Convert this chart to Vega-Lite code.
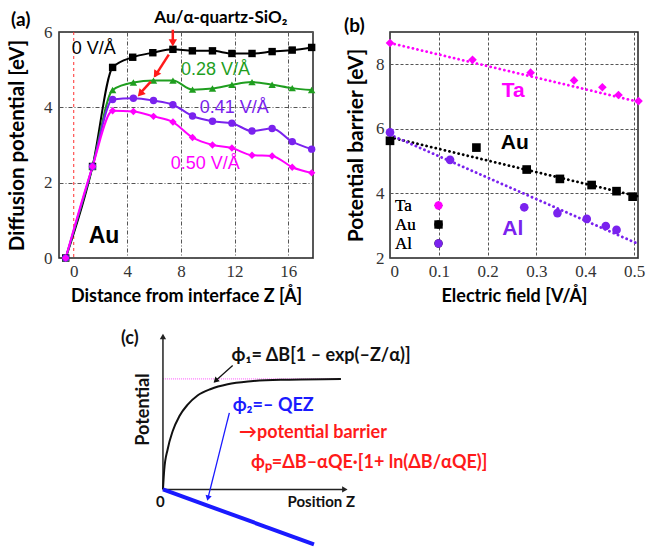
{
"$schema":"https://vega.github.io/schema/vega-lite/v6.json",
"background":"white",
"padding":{"left":6,"top":8,"right":0,"bottom":0},
"spacing":11,
"resolve":{"scale":{"color":"independent","shape":"independent"}},
"datasets":{
"diffusion":[
{"series":"0 V/Å","z":-0.6,"e":0},{"series":"0 V/Å","z":1.4,"e":2.43},{"series":"0 V/Å","z":2.9,"e":5.06},{"series":"0 V/Å","z":4.4,"e":5.33},{"series":"0 V/Å","z":5.9,"e":5.45},{"series":"0 V/Å","z":7.4,"e":5.54},{"series":"0 V/Å","z":8.85,"e":5.5},{"series":"0 V/Å","z":10.35,"e":5.5},{"series":"0 V/Å","z":11.8,"e":5.43},{"series":"0 V/Å","z":13.3,"e":5.43},{"series":"0 V/Å","z":14.8,"e":5.48},{"series":"0 V/Å","z":16.3,"e":5.52},{"series":"0 V/Å","z":17.75,"e":5.59},
{"series":"0.28 V/Å","z":-0.6,"e":0},{"series":"0.28 V/Å","z":1.4,"e":2.43},{"series":"0.28 V/Å","z":2.9,"e":4.46},{"series":"0.28 V/Å","z":4.45,"e":4.66},{"series":"0.28 V/Å","z":5.95,"e":4.71},{"series":"0.28 V/Å","z":7.4,"e":4.71},{"series":"0.28 V/Å","z":8.86,"e":4.47},{"series":"0.28 V/Å","z":10.35,"e":4.5},{"series":"0.28 V/Å","z":11.8,"e":4.6},{"series":"0.28 V/Å","z":13.3,"e":4.67},{"series":"0.28 V/Å","z":14.8,"e":4.6},{"series":"0.28 V/Å","z":16.3,"e":4.51},{"series":"0.28 V/Å","z":17.75,"e":4.46},
{"series":"0.41 V/Å","z":-0.6,"e":0},{"series":"0.41 V/Å","z":1.4,"e":2.43},{"series":"0.41 V/Å","z":2.9,"e":4.21},{"series":"0.41 V/Å","z":4.45,"e":4.24},{"series":"0.41 V/Å","z":5.95,"e":4.18},{"series":"0.41 V/Å","z":7.4,"e":4.07},{"series":"0.41 V/Å","z":8.86,"e":3.77},{"series":"0.41 V/Å","z":10.35,"e":3.63},{"series":"0.41 V/Å","z":11.8,"e":3.58},{"series":"0.41 V/Å","z":13.3,"e":3.37},{"series":"0.41 V/Å","z":14.8,"e":3.44},{"series":"0.41 V/Å","z":16.3,"e":3.09},{"series":"0.41 V/Å","z":17.75,"e":2.89},
{"series":"0.50 V/Å","z":-0.6,"e":0},{"series":"0.50 V/Å","z":1.4,"e":2.43},{"series":"0.50 V/Å","z":2.9,"e":3.91},{"series":"0.50 V/Å","z":4.45,"e":3.89},{"series":"0.50 V/Å","z":5.95,"e":3.76},{"series":"0.50 V/Å","z":7.4,"e":3.61},{"series":"0.50 V/Å","z":8.86,"e":3.2},{"series":"0.50 V/Å","z":10.35,"e":3.0},{"series":"0.50 V/Å","z":11.8,"e":2.92},{"series":"0.50 V/Å","z":13.3,"e":2.73},{"series":"0.50 V/Å","z":14.8,"e":2.71},{"series":"0.50 V/Å","z":16.3,"e":2.41},{"series":"0.50 V/Å","z":17.75,"e":2.26}
],
"a_labels":[{"series":"0 V/Å","z":-0.15,"e":5.56},{"series":"0.28 V/Å","z":8.0,"e":5.0},{"series":"0.41 V/Å","z":9.4,"e":3.97},{"series":"0.50 V/Å","z":7.24,"e":2.49}],
"a_ref":[{"z":0}],
"a_notes":[{"kind":"metal","note":"Au","z":1.12,"e":0.58},{"kind":"header","note":"Au/α-quartz-SiO₂","z":10.97,"e":6.36},{"kind":"panel","note":"(a)","z":-4.68,"e":6.32}],
"a_arrows":[{"z":7.39,"e":6.06,"z2":7.39,"e2":5.75},{"z":7.09,"e":5.4,"z2":6.05,"e2":4.82},{"z":5.75,"e":4.68,"z2":5.0,"e2":4.39}],
"a_heads":[{"z":7.39,"e":5.71,"heading":180},{"z":6.12,"e":4.87,"heading":213},{"z":4.96,"e":4.36,"heading":222}],
"barrier":[
{"metal":"Ta","efield":0,"barrier":8.66},{"metal":"Ta","efield":0.169,"barrier":8.14},{"metal":"Ta","efield":0.288,"barrier":7.74},{"metal":"Ta","efield":0.377,"barrier":7.5},{"metal":"Ta","efield":0.435,"barrier":7.29},{"metal":"Ta","efield":0.468,"barrier":7.05},{"metal":"Ta","efield":0.509,"barrier":6.86},
{"metal":"Au","efield":0,"barrier":5.63},{"metal":"Au","efield":0.177,"barrier":5.42},{"metal":"Au","efield":0.28,"barrier":4.74},{"metal":"Au","efield":0.348,"barrier":4.45},{"metal":"Au","efield":0.413,"barrier":4.26},{"metal":"Au","efield":0.464,"barrier":4.07},{"metal":"Au","efield":0.497,"barrier":3.9},
{"metal":"Al","efield":0,"barrier":5.89},{"metal":"Al","efield":0.123,"barrier":5.04},{"metal":"Al","efield":0.275,"barrier":3.57},{"metal":"Al","efield":0.343,"barrier":3.39},{"metal":"Al","efield":0.403,"barrier":3.21},{"metal":"Al","efield":0.442,"barrier":2.99},{"metal":"Al","efield":0.464,"barrier":2.87}
],
"fits":[{"metal":"Ta","efield":0,"barrier":8.66},{"metal":"Ta","efield":0.508,"barrier":6.84},{"metal":"Au","efield":0,"barrier":5.74},{"metal":"Au","efield":0.508,"barrier":3.91},{"metal":"Al","efield":0,"barrier":5.82},{"metal":"Al","efield":0.508,"barrier":2.44}],
"b_labels":[{"metal":"Ta","efield":0.229,"barrier":7.18},{"metal":"Au","efield":0.227,"barrier":5.57},{"metal":"Al","efield":0.23,"barrier":2.9}],
"b_panel":[{"note":"(b)","efield":-0.094,"barrier":9.19}],
"c_curve":[{"z":0,"phi":0},{"z":0.07,"phi":1.27},{"z":0.25,"phi":2.55},{"z":0.52,"phi":3.71},{"z":0.88,"phi":4.67},{"z":1.33,"phi":5.41},{"z":1.86,"phi":5.99},{"z":2.58,"phi":6.41},{"z":3.48,"phi":6.71},{"z":4.73,"phi":6.9},{"z":6.52,"phi":7.0},{"z":9.57,"phi":7.05}],
"c_segments":[
{"role":"guide","z":0,"phi":7.05,"z2":9.57,"phi2":7.05},
{"role":"axis","z":0,"phi":0,"z2":0,"phi2":9.7},
{"role":"axis","z":0,"phi":0,"z2":9.75,"phi2":0},
{"role":"field","z":0,"phi":0,"z2":8.12,"phi2":-3.5},
{"role":"pointer1","z":3.75,"phi":7.9,"z2":2.83,"phi2":6.93},
{"role":"pointer2","z":3.57,"phi":4.88,"z2":2.42,"phi2":-0.56}],
"c_heads":[{"role":"axis","z":0,"phi":9.75,"heading":0},{"role":"axis","z":9.78,"phi":0,"heading":90},{"role":"pointer1","z":2.83,"phi":6.93,"heading":226.5},{"role":"pointer2","z":2.42,"phi":-0.56,"heading":194}],
"c_text":[
{"role":"label","text":"(c)","z":-2.26,"phi":9.62},
{"role":"label","text":"ϕ₁= ΔB[1 – exp(–Z/α)]","z":3.69,"phi":8.49},
{"role":"pointer2","text":"ϕ₂=– QEZ","z":3.75,"phi":5.31},
{"role":"barrier","text":"→potential barrier","z":4.09,"phi":3.63},
{"role":"barrier","text":"ϕₚ=ΔB–αQE·[1+ ln(ΔB/αQE)]","z":4.73,"phi":1.66}],
"c_small":[{"text":"Position Z","z":6.7,"phi":-0.81},{"text":"0","z":-0.38,"phi":-0.83}],
"c_vtext":[{"text":"Potential","z":-1.0,"phi":5.1}]
},
"vconcat":[
{"hconcat":[
{"width":254,"height":226,
"layer":[
{"data":{"name":"a_ref"},"mark":{"type":"rule","color":"#ff3030","strokeDash":[3,3],"strokeWidth":1},
"encoding":{"x":{"field":"z","type":"quantitative","scale":{"domain":[-1.1,17.85],"nice":false,"zero":false},
"axis":{"values":[0,4,8,12,16],"labelFont":"Liberation Serif","title":"Distance from interface Z [Å]","titleFontSize":18,"titlePadding":8,"gridOpacity":{"condition":{"test":"datum.value === 0","value":0},"value":1}}}}},
{"data":{"name":"diffusion"},"mark":{"type":"line","interpolate":"monotone","strokeWidth":2},
"encoding":{"x":{"field":"z","type":"quantitative"},
"y":{"field":"e","type":"quantitative","scale":{"domain":[0,6],"nice":false},"axis":{"values":[0,2,4,6],"labelFont":"Liberation Serif","title":"Diffusion potential [eV]","titleFontSize":20.5,"titlePadding":16,"labelPadding":7}},
"color":{"field":"series","type":"nominal","scale":{"domain":["0 V/Å","0.28 V/Å","0.41 V/Å","0.50 V/Å"],"range":["#000000","#1f9e1f","#7a22ee","#ff00ff"]},"legend":null}}},
{"data":{"name":"diffusion"},"mark":{"type":"point","filled":true,"opacity":1,"size":55},
"encoding":{"x":{"field":"z","type":"quantitative"},"y":{"field":"e","type":"quantitative"},
"color":{"field":"series","type":"nominal","legend":null},
"shape":{"field":"series","type":"nominal","scale":{"domain":["0 V/Å","0.28 V/Å","0.41 V/Å","0.50 V/Å"],"range":["square","triangle-up","circle","diamond"]},"legend":null}}},
{"data":{"name":"a_labels"},"mark":{"type":"text","align":"left","baseline":"middle","font":"Liberation Sans","fontSize":18},
"encoding":{"x":{"field":"z","type":"quantitative"},"y":{"field":"e","type":"quantitative"},"text":{"field":"series"},"color":{"field":"series","type":"nominal","legend":null}}},
{"data":{"name":"a_notes"},"transform":[{"filter":"datum.kind === 'metal'"}],"mark":{"type":"text","align":"left","baseline":"middle","font":"Liberation Sans","fontWeight":"bold","fontSize":23,"color":"black"},
"encoding":{"x":{"field":"z","type":"quantitative"},"y":{"field":"e","type":"quantitative"},"text":{"field":"note"}}},
{"data":{"name":"a_notes"},"transform":[{"filter":"datum.kind === 'header'"}],"mark":{"type":"text","align":"center","baseline":"middle","font":"Lato","fontWeight":"bold","fontSize":17,"color":"black"},
"encoding":{"x":{"field":"z","type":"quantitative"},"y":{"field":"e","type":"quantitative"},"text":{"field":"note"}}},
{"data":{"name":"a_notes"},"transform":[{"filter":"datum.kind === 'panel'"}],"mark":{"type":"text","align":"left","baseline":"middle","font":"Lato","fontWeight":"bold","fontSize":19,"color":"black"},
"encoding":{"x":{"field":"z","type":"quantitative"},"y":{"field":"e","type":"quantitative"},"text":{"field":"note"}}},
{"data":{"name":"a_arrows"},"mark":{"type":"rule","color":"#ff1a1a","strokeWidth":2.5},
"encoding":{"x":{"field":"z","type":"quantitative"},"y":{"field":"e","type":"quantitative"},"x2":{"field":"z2"},"y2":{"field":"e2"}}},
{"data":{"name":"a_heads"},"mark":{"type":"point","shape":"triangle-up","filled":true,"opacity":1,"color":"#ff1a1a","size":70},
"encoding":{"x":{"field":"z","type":"quantitative"},"y":{"field":"e","type":"quantitative"},"angle":{"field":"heading","type":"quantitative","scale":null}}}
]},
{"width":248,"height":226,
"resolve":{"scale":{"color":"independent"}},
"layer":[
{"data":{"name":"fits"},"mark":{"type":"line","strokeDash":[0.1,4.6],"strokeCap":"round","strokeWidth":2.8},
"encoding":{"x":{"field":"efield","type":"quantitative","scale":{"domain":[0,0.508],"nice":false},"axis":{"values":[0,0.1,0.2,0.3,0.4,0.5],"labelFont":"Liberation Serif","format":"~g","title":"Electric field [V/Å]","titleFontSize":18,"titlePadding":8,"gridDash":[3,2]}},
"y":{"field":"barrier","type":"quantitative","scale":{"domain":[2,9],"nice":false,"zero":false},"axis":{"values":[2,4,6,8],"labelFont":"Liberation Serif","title":"Potential barrier [eV]","titleFontSize":21,"titlePadding":9,"labelPadding":6,"gridDash":[3,2]}},
"color":{"field":"metal","type":"nominal","scale":{"domain":["Ta","Au","Al"],"range":["#ff00ff","#000000","#7a22ee"]},"legend":null}}},
{"data":{"name":"barrier"},"mark":{"type":"point","filled":true,"opacity":1,"size":75},
"encoding":{"x":{"field":"efield","type":"quantitative"},"y":{"field":"barrier","type":"quantitative"},
"color":{"field":"metal","type":"nominal","scale":{"domain":["Ta","Au","Al"],"range":["#ff00ff","#000000","#7a22ee"]},"legend":{"orient":"none","legendX":4,"legendY":165,"title":null,"symbolOffset":36,"labelOffset":-52}},
"shape":{"field":"metal","type":"nominal","scale":{"domain":["Ta","Au","Al"],"range":["diamond","square","circle"]},"legend":{"orient":"none","legendX":4,"legendY":165,"title":null,"symbolOffset":36,"labelOffset":-52}}}},
{"data":{"name":"b_labels"},"mark":{"type":"text","align":"left","baseline":"middle","font":"Liberation Sans","fontWeight":"bold","fontSize":21},
"encoding":{"x":{"field":"efield","type":"quantitative"},"y":{"field":"barrier","type":"quantitative"},"text":{"field":"metal"},"color":{"field":"metal","type":"nominal","scale":{"domain":["Ta","Au","Al"],"range":["#ff00ff","#000000","#7a22ee"]},"legend":null}}},
{"data":{"name":"b_panel"},"mark":{"type":"text","align":"left","baseline":"middle","font":"Lato","fontWeight":"bold","fontSize":19,"color":"black"},
"encoding":{"x":{"field":"efield","type":"quantitative"},"y":{"field":"barrier","type":"quantitative"},"text":{"field":"note"}}}
]}
],"spacing":26,"resolve":{"scale":{"color":"independent","shape":"independent"}}},
{"width":448,"height":232,"view":{"stroke":null},
"layer":[
{"data":{"name":"c_segments"},"transform":[{"filter":"datum.role === 'guide'"}],"mark":{"type":"rule","color":"#ff55ff","strokeDash":[1,1],"strokeWidth":1},
"encoding":{"x":{"field":"z","type":"quantitative","scale":{"domain":[-5.59,18.5],"nice":false,"zero":false},"axis":null},
"y":{"field":"phi","type":"quantitative","scale":{"domain":[-3.8,11.0],"nice":false,"zero":false},"axis":null},"x2":{"field":"z2"},"y2":{"field":"phi2"}}},
{"data":{"name":"c_segments"},"transform":[{"filter":"datum.role === 'axis'"}],"mark":{"type":"rule","color":"#222","strokeWidth":1.5},
"encoding":{"x":{"field":"z","type":"quantitative"},"y":{"field":"phi","type":"quantitative"},"x2":{"field":"z2"},"y2":{"field":"phi2"}}},
{"data":{"name":"c_curve"},"mark":{"type":"line","color":"#111","strokeWidth":2,"interpolate":"monotone"},
"encoding":{"x":{"field":"z","type":"quantitative"},"y":{"field":"phi","type":"quantitative"}}},
{"data":{"name":"c_segments"},"transform":[{"filter":"datum.role === 'field'"}],"mark":{"type":"rule","color":"#1a1aff","strokeWidth":4},
"encoding":{"x":{"field":"z","type":"quantitative"},"y":{"field":"phi","type":"quantitative"},"x2":{"field":"z2"},"y2":{"field":"phi2"}}},
{"data":{"name":"c_segments"},"transform":[{"filter":"datum.role === 'pointer1' || datum.role === 'pointer2'"}],"mark":{"type":"rule","strokeWidth":1.3},
"encoding":{"x":{"field":"z","type":"quantitative"},"y":{"field":"phi","type":"quantitative"},"x2":{"field":"z2"},"y2":{"field":"phi2"},
"color":{"field":"role","type":"nominal","scale":{"domain":["axis","label","pointer1","pointer2","barrier"],"range":["#222222","#111111","#111111","#1a1aff","#ff1a1a"]},"legend":null}}},
{"data":{"name":"c_heads"},"mark":{"type":"point","shape":"triangle-up","filled":true,"opacity":1,"size":40},
"encoding":{"x":{"field":"z","type":"quantitative"},"y":{"field":"phi","type":"quantitative"},"angle":{"field":"heading","type":"quantitative","scale":null},"color":{"field":"role","type":"nominal","legend":null}}},
{"data":{"name":"c_text"},"mark":{"type":"text","align":"left","baseline":"middle","font":"Lato","fontWeight":"bold","fontSize":18},
"encoding":{"x":{"field":"z","type":"quantitative"},"y":{"field":"phi","type":"quantitative"},"text":{"field":"text"},"color":{"field":"role","type":"nominal","legend":null}}},
{"data":{"name":"c_small"},"mark":{"type":"text","align":"left","baseline":"middle","font":"Lato","fontWeight":"bold","fontSize":15,"color":"#111"},
"encoding":{"x":{"field":"z","type":"quantitative"},"y":{"field":"phi","type":"quantitative"},"text":{"field":"text"}}},
{"data":{"name":"c_vtext"},"mark":{"type":"text","align":"center","baseline":"middle","angle":270,"font":"Lato","fontWeight":"bold","fontSize":18,"color":"#111"},
"encoding":{"x":{"field":"z","type":"quantitative"},"y":{"field":"phi","type":"quantitative"},"text":{"field":"text"}}}
]}
],
"config":{
"view":{"stroke":"#222","strokeWidth":1.5},
"axis":{"labelFont":"Liberation Serif","labelFontSize":17,"labelColor":"#333","ticks":false,"domain":false,"labelPadding":5,
"titleFont":"Lato","titleFontWeight":"bold","titleFontSize":19,"titleColor":"#000",
"grid":true,"gridColor":"#555","gridDash":[4,2,1,2],"gridWidth":1},
"legend":{"labelFont":"Liberation Serif","labelFontSize":17,"labelColor":"#000","symbolSize":70,"rowPadding":1,"padding":0,"symbolStrokeWidth":0}
}
}
